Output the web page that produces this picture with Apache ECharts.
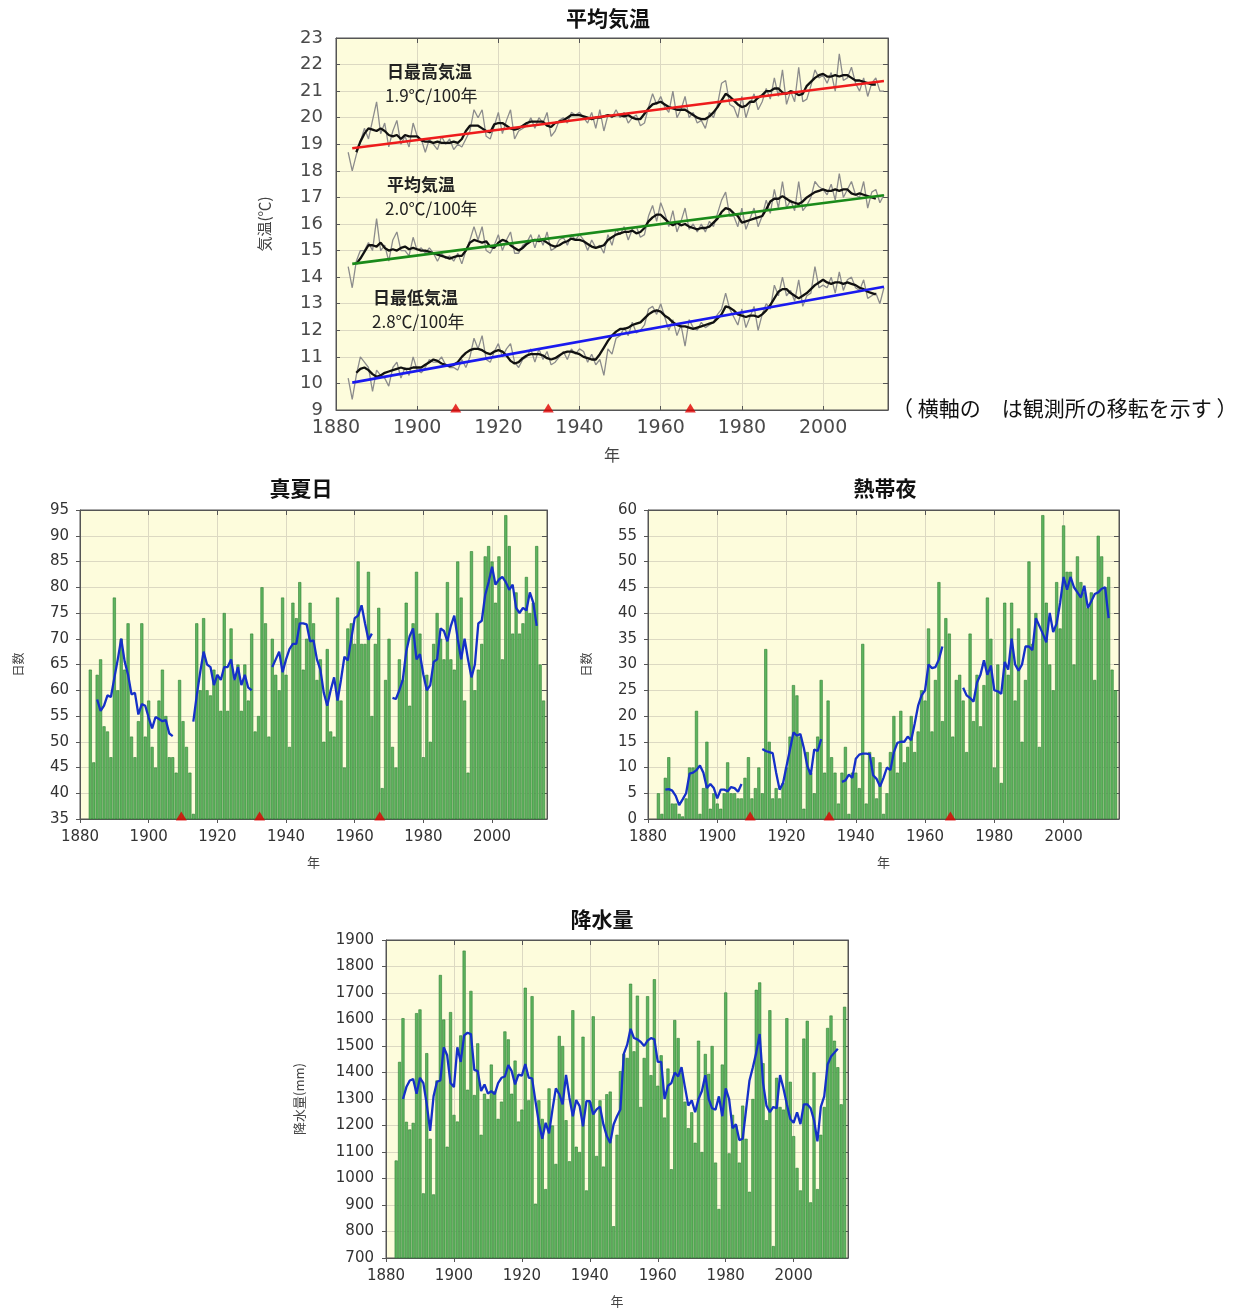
<!DOCTYPE html>
<html>
<head>
<meta charset="UTF-8">
<title>平均気温・真夏日・熱帯夜・降水量</title>
<style>
  html, body { margin: 0; padding: 0; background: #fff; }
  #main { width: 1238px; height: 1310px; }
</style>
</head>
<body>
<div id="main"></div>
<script src="https://cdn.jsdelivr.net/npm/echarts@6/dist/echarts.min.js"></script>
<script>
// ---- data ----
var firstYear = 1883;   // annual values 1883-2015
var maFirst = 1885;     // 5-year running mean, 1885-2013
var moveYears = [1909.5, 1932.3, 1967.3];  // station relocations (red triangles)

// 平均気温 panel: annual (grey) and 5-year mean (black)
var tmaxYear = [18.7,18.0,18.6,19.1,19.6,19.2,19.9,20.6,19.4,19.8,
  18.9,19.5,19.9,19.0,19.3,18.9,19.8,19.3,19.2,18.7,
  19.2,19.0,18.8,19.3,19.0,19.2,18.8,19.0,18.9,19.2,
  19.5,20.3,20.0,20.3,19.3,19.2,19.7,20.2,19.4,19.9,
  20.3,19.2,19.5,19.6,19.7,20.0,19.6,20.0,19.8,20.2,
  19.3,19.5,19.9,20.0,19.8,20.2,20.1,20.2,20.0,19.8,
  20.2,19.6,20.3,19.5,20.1,20.0,20.3,20.0,20.2,19.8,
  20.0,20.1,19.7,19.8,20.4,20.9,20.5,20.8,20.4,20.2,
  21.0,20.0,20.3,20.8,20.0,20.2,19.8,19.9,19.6,20.2,
  20.0,20.5,21.3,21.4,20.5,20.4,20.0,20.8,20.0,20.5,
  20.9,20.3,20.6,21.1,20.7,21.5,20.8,21.8,20.5,21.0,
  20.6,21.9,20.6,20.7,21.2,21.8,21.5,21.6,21.3,21.7,
  21.0,22.4,21.4,21.5,21.9,21.3,21.0,21.5,20.8,21.3,
  21.5,21.0,21.0];
var tmaxMa = [18.7,19.1,19.4,19.6,19.55,19.5,19.6,19.5,19.35,19.3,
  19.35,19.2,19.35,19.3,19.3,19.3,19.15,19.1,19.1,19.05,
  19.1,19.05,19.05,19.05,19.1,19.05,19.2,19.5,19.7,19.7,
  19.7,19.6,19.5,19.45,19.75,19.8,19.8,19.7,19.6,19.55,
  19.6,19.7,19.8,19.85,19.85,19.85,19.85,19.7,19.65,19.8,
  19.85,19.9,20.0,20.1,20.1,20.1,20.05,20.0,19.95,20.0,
  20.0,20.05,20.1,20.05,20.1,20.1,20.05,20.1,20.0,19.95,
  19.95,20.15,20.35,20.5,20.55,
  20.6,20.5,20.4,20.35,20.3,20.3,20.3,20.2,20.1,20.0,
  19.95,19.95,20.05,20.2,20.4,20.65,20.9,20.8,20.65,20.5,
  20.4,20.45,20.6,20.6,20.75,20.85,21.0,21.0,21.1,21.1,
  20.95,20.9,21.0,20.95,20.85,20.9,21.2,21.35,21.5,21.6,
  21.65,21.55,21.55,21.6,21.55,21.6,21.6,21.5,21.4,21.4,
  21.35,21.3,21.25,21.25];
var tmeanYear = [14.4,13.6,14.6,15.0,15.0,15.3,15.0,16.2,15.0,15.2,
  14.6,15.4,15.7,15.0,15.0,14.8,15.5,15.0,15.1,14.9,
  15.1,14.9,14.6,14.9,14.7,14.8,14.6,14.9,14.5,15.0,
  15.4,15.9,15.4,15.9,15.0,14.9,15.2,15.6,15.0,15.4,
  15.7,14.9,14.9,15.2,15.3,15.6,15.1,15.6,15.2,15.7,
  15.0,15.1,15.4,15.5,15.2,15.6,15.4,15.6,15.4,15.0,
  15.4,15.1,15.2,14.9,15.6,15.2,15.8,15.6,15.9,15.4,
  15.8,15.9,15.5,15.6,16.3,16.7,16.1,16.8,16.4,15.9,
  16.5,15.7,16.1,16.6,15.8,16.0,15.7,16.0,15.7,16.1,
  15.9,16.4,16.9,17.2,16.3,16.3,15.9,16.6,15.8,16.2,
  16.6,15.9,16.3,16.9,16.4,17.3,16.6,17.6,16.6,16.9,
  16.5,17.6,16.5,16.7,17.0,17.6,17.4,17.3,17.1,17.5,
  16.9,17.9,17.0,17.3,17.6,17.1,17.0,17.6,16.6,17.2,
  17.3,16.8,17.1];
var tmeanMa = [14.5,14.7,14.95,15.2,15.2,15.15,15.3,15.1,15.0,15.05,
  15.0,15.1,15.15,15.05,15.1,15.05,15.0,15.0,14.95,14.9,
  14.85,14.8,14.75,14.7,14.75,14.8,14.8,15.0,15.3,15.4,
  15.35,15.3,15.35,15.15,15.1,15.3,15.4,15.35,15.2,15.1,
  15.0,15.1,15.25,15.35,15.4,15.35,15.4,15.3,15.2,15.15,
  15.2,15.3,15.35,15.45,15.4,15.4,15.35,15.25,15.15,15.1,
  15.15,15.2,15.4,15.5,15.6,15.65,15.7,15.7,15.75,15.65,
  15.7,15.85,16.1,16.25,16.35,16.35,16.2,16.05,15.95,16.05,
  15.95,16.0,15.9,15.85,15.8,15.85,15.85,15.9,16.05,16.2,
  16.45,16.6,16.55,16.4,16.3,16.05,16.1,16.15,16.2,16.25,
  16.3,16.55,16.85,16.95,16.95,17.05,16.95,16.85,16.8,16.75,
  16.85,17.0,17.1,17.2,17.25,17.3,17.25,17.25,17.3,17.25,
  17.3,17.3,17.15,17.1,17.15,17.1,17.05,17.0,16.95];
var tminYear = [10.2,9.4,10.3,11.0,10.8,10.6,9.7,10.5,10.3,10.2,
  9.9,10.6,10.8,10.2,10.6,10.3,11.0,10.5,10.4,10.6,
  10.9,10.8,10.8,11.0,10.7,10.6,10.6,10.5,10.9,10.6,
  11.0,11.7,11.3,11.8,10.9,10.8,11.2,11.5,11.0,11.3,
  11.5,10.8,10.6,10.9,11.0,11.3,10.8,11.3,10.9,11.2,
  10.7,10.8,11.0,11.2,10.9,11.3,11.1,11.3,11.2,10.8,
  11.1,10.7,10.9,10.3,11.3,11.1,11.7,11.8,12.1,11.8,
  12.3,11.9,12.0,12.2,12.8,12.9,12.6,13.0,12.5,12.0,
  12.4,11.8,12.2,11.4,12.4,12.1,12.0,12.3,12.1,12.2,
  12.3,12.6,12.8,13.4,12.8,12.5,12.2,12.8,12.1,12.5,
  12.9,12.0,12.6,13.0,12.8,13.7,13.3,14.0,13.3,13.5,
  13.1,13.9,12.9,13.3,13.4,14.4,13.6,13.7,13.6,14.0,
  13.4,14.2,13.5,13.9,14.0,13.6,13.5,13.9,13.2,13.3,
  13.4,13.0,13.6];
var tminMa = [10.4,10.55,10.6,10.5,10.35,10.25,10.3,10.4,10.45,10.5,
  10.55,10.6,10.55,10.55,10.6,10.6,10.6,10.7,10.8,10.9,
  10.85,10.75,10.7,10.65,10.7,10.8,11.0,11.15,11.25,11.3,
  11.3,11.25,11.15,11.1,11.2,11.25,11.2,11.05,10.85,10.75,
  10.8,10.95,11.05,11.1,11.1,11.1,11.05,10.95,10.9,10.95,
  11.05,11.15,11.2,11.2,11.15,11.1,11.0,10.95,10.9,10.9,
  11.1,11.35,11.6,11.8,11.95,12.05,12.05,12.1,12.2,12.25,
  12.3,12.45,12.6,12.7,12.75,12.7,12.55,12.45,12.3,12.2,
  12.15,12.15,12.1,12.05,12.1,12.15,12.2,12.25,12.3,12.45,
  12.6,12.9,12.85,12.75,12.6,12.55,12.5,12.55,12.55,12.5,
  12.6,12.75,12.95,13.2,13.45,13.55,13.55,13.4,13.3,13.2,
  13.3,13.4,13.55,13.7,13.8,13.9,13.8,13.75,13.8,13.8,
  13.75,13.8,13.75,13.7,13.6,13.55,13.45,13.4,13.35];
// linear trends (end points)
var trendYears = [1884, 2015];
var tmaxTrend = [18.85, 21.38];
var tmeanTrend = [14.5, 17.08];
var tminTrend = [10.03, 13.64];

// 真夏日 (days), annual bars 1883-2015
var manatsu = [64,46,63,66,53,52,47,78,60,70,
  64,73,51,47,54,73,51,58,49,45,
  58,64,55,47,47,44,62,54,49,44,
  36,73,60,74,60,59,64,63,56,75,
  56,72,62,65,56,65,58,71,52,55,
  80,73,51,70,63,60,78,63,49,77,
  74,81,64,70,77,73,62,66,50,68,
  52,51,78,58,45,72,73,69,85,69,
  69,83,55,69,76,41,62,70,49,45,
  66,62,77,57,73,83,71,47,63,50,
  69,75,70,66,81,66,64,85,78,58,
  44,87,60,64,69,86,88,85,77,86,
  66,94,88,71,79,71,73,82,75,77,
  88,65,58];
// 5-year running mean, split at relocations
var segStarts = [1885, 1913, 1936, 1971];
var manatsuMa = [
  [58.2,56,57,59,58.7,62.4,66,70,65.6,63,59.2,59.5,55.3,57.3,57,54.7,52.6,54.8,54.4,54,54.2,51.6,51.1],
  [53.9,59,63.5,67.5,65,64.5,61,63,62,64.5,64.5,66,62,64.5,61,63,60.5,60],
  [64.5,66,67.5,63.5,66,68,69,69,73,73,72.8,69.5,69.7,66,64,59.5,57,60,62.5,58,62,66.5,65.8,70,74,74.5,76.5,73,69.8,71],
  [58.5,58.3,60,62,67.5,70.5,72,66,67,63,60,61,65.5,66,72,71.5,69.5,72.5,74.5,70,66,70,66,62.5,65,73,73.5,78.5,81,84,80.5,81.5,82,81,79.5,80.5,76,75,76,75.5,79,77,72.5]
];

// 熱帯夜 (days), annual bars 1883-2015
var nettai = [5,1,8,12,3,3,1,0.5,4,10,
  10,21,1,6,15,2,5,3,2,5,
  11,5,5,4,4,8,12,4,6,10,
  5,33,15,4,6,4,7,10,16,26,
  24,16,2,13,9,5,16,27,9,23,
  12,9,3,9,14,1,9,9,6,34,
  3,13,12,4,11,1,5,13,20,9,
  21,11,14,20,13,17,25,23,37,17,
  27,46,19,39,36,16,27,28,23,13,
  36,19,28,18,26,43,35,10,30,7,
  42,28,42,23,37,15,27,50,34,40,
  14,59,42,30,25,46,37,57,48,48,
  30,51,46,44,41,44,27,55,51,45,
  47,29,25];
var nettaiMa = [
  [5.7,5.8,5.5,4.5,2.7,3.8,5,8.8,9,9.5,10.4,9,6,6.8,6,4,5.7,5.7,5.4,6.2,6,5.3,6.8],
  [13.6,13.2,13,12.8,9,5.7,7,10.3,13.5,16.8,16.2,16.5,13.8,10.3,8.6,13.5,13.2,15.5],
  [7.2,7.5,8.6,8,11.7,12.5,12.7,12.7,12.6,8.5,7.8,6.3,8,10,9.5,13,14.8,15,15,16,15.3,18.5,22,24,25,30,29.3,29.5,31,33.5],
  [25.5,24,23.5,22.8,26.5,28,30.8,28,29.8,25,24.8,24.3,30.5,29,35,30,28.8,30,33.5,33.5,32.8,39,37.5,36,34.3,40,36.3,38,42,47,44.5,47,45,44,43,45.3,41,42.3,43.7,44,44.7,45,39]
];

// 降水量 (mm), annual bars 1883-2015 and 5-year mean 1885-2013
var precip = [1068,1440,1605,1214,1185,1210,1624,1638,944,1473,
  1150,940,1370,1768,1600,1120,1628,1240,1215,1540,
  1860,1335,1708,1315,1510,1165,1320,1300,1430,1330,
  1225,1290,1555,1525,1320,1445,1215,1260,1720,1295,
  1688,905,1295,1225,960,1340,1200,1055,1538,1500,
  1220,1065,1635,1120,1100,1535,955,1290,1612,1085,
  1295,1045,1318,1328,820,1165,1405,1470,1455,1735,
  1480,1690,1270,1455,1688,1390,1752,1350,1465,1230,
  1415,1035,1598,1530,1400,1290,1190,1250,1135,1520,
  1100,1470,1395,1500,1060,885,1430,1702,1095,1240,
  1200,1060,1275,1150,950,1300,1712,1740,1435,1220,
  1635,745,1380,1270,1260,1605,1365,1160,1040,955,
  1528,1595,910,1400,960,1165,1270,1568,1615,1520,
  1420,1280,1648];
var precipMa = [1300,1345,1370,1375,1320,1380,1360,1280,1180,1310,
  1365,1370,1495,1465,1360,1345,1495,1440,1540,1550,
  1545,1410,1405,1330,1355,1320,1330,1318,1360,1380,
  1385,1428,1405,1355,1392,1388,1432,1381,1378,1292,
  1210,1150,1210,1170,1260,1340,1318,1280,1391,1305,
  1235,1296,1273,1197,1292,1292,1242,1261,1271,1204,
  1160,1134,1204,1235,1260,1470,1505,1565,1530,1525,
  1515,1500,1520,1530,1525,1440,1440,1300,1350,1360,
  1400,1385,1420,1345,1275,1295,1250,1300,1330,1390,
  1300,1265,1260,1310,1235,1340,1300,1190,1205,1145,
  1150,1260,1370,1420,1475,1545,1360,1275,1250,1270,
  1265,1390,1340,1280,1225,1210,1250,1205,1280,1280,
  1265,1220,1140,1270,1310,1430,1460,1475,1490];

// ---- chart ----
var NUM = "'DejaVu Sans', sans-serif";
var JP = "'Noto Sans CJK JP', sans-serif";
var PLOT_BG = '#fdfcdc';

function pairs(start, vals) {
  return vals.map(function (v, i) { return [start + i, v]; });
}
function plain(v) { return String(v); }   // no thousands separator

var grids = [
  { left: 336, top: 38, width: 552, height: 372 },   // 平均気温
  { left: 80, top: 510, width: 467, height: 309 },   // 真夏日
  { left: 648, top: 510, width: 471, height: 309 },  // 熱帯夜
  { left: 386, top: 940, width: 462, height: 318 }   // 降水量
].map(function (g) {
  return Object.assign({ show: true, backgroundColor: PLOT_BG, borderColor: '#555',
    borderWidth: 1, outerBoundsMode: 'none', containLabel: false }, g);
});

var axisCfg = [
  { ymin: 9, ymax: 23, yint: 1, num: 18, xnum: 19, labelColor: '#4a4a4a', inside: true, yMargin: 13,
    yName: '気温(℃)', yGap: 64, yNameSize: 15, xGap: 37, xNameSize: 16, xMargin: 9 },
  { ymin: 35, ymax: 95, yint: 5, num: 15, xnum: 15, labelColor: '#333', inside: false, yMargin: 11,
    yName: '日数', yGap: 56, yNameSize: 12, xGap: 37, xNameSize: 13, xMargin: 11 },
  { ymin: 0, ymax: 60, yint: 5, num: 15, xnum: 15, labelColor: '#333', inside: false, yMargin: 11,
    yName: '日数', yGap: 56, yNameSize: 12, xGap: 37, xNameSize: 13, xMargin: 11 },
  { ymin: 700, ymax: 1900, yint: 100, num: 15, xnum: 15, labelColor: '#333', inside: false, yMargin: 12,
    yName: '降水量(mm)', yGap: 80, yNameSize: 13, xGap: 37, xNameSize: 13, xMargin: 11 }
];

var xAxes = [], yAxes = [];
axisCfg.forEach(function (c, i) {
  var line = { show: true, onZero: false, lineStyle: { color: '#555', width: 1 } };
  var grid = { show: true, lineStyle: { color: '#dcd9c2', width: 1 } };
  xAxes.push({
    type: 'value', gridIndex: i, min: 1880, max: 2016, interval: 20,
    axisLine: line,
    axisTick: { inside: c.inside, length: 4, lineStyle: { color: '#555' } },
    axisLabel: { fontFamily: NUM, fontSize: c.xnum, color: c.labelColor, margin: c.xMargin,
      showMaxLabel: false, formatter: plain },
    splitLine: grid,
    name: '年', nameLocation: 'middle', nameGap: c.xGap,
    nameTextStyle: { fontFamily: JP, fontSize: c.xNameSize, color: '#444' }
  });
  xAxes.push({
    type: 'value', gridIndex: i, position: 'top', min: 1880, max: 2016, interval: 20,
    axisLine: line, axisTick: { inside: true, length: 5, lineStyle: { color: '#555' } },
    axisLabel: { show: false }, splitLine: { show: false }
  });
  yAxes.push({
    type: 'value', gridIndex: i, min: c.ymin, max: c.ymax, interval: c.yint,
    axisLine: line,
    axisTick: { inside: c.inside, length: 4, lineStyle: { color: '#555' } },
    axisLabel: { fontFamily: NUM, fontSize: c.num, color: c.labelColor, margin: c.yMargin,
      formatter: plain },
    splitLine: grid,
    name: c.yName, nameLocation: 'middle', nameGap: c.yGap, nameRotate: 90,
    nameTextStyle: { fontFamily: JP, fontSize: c.yNameSize, color: '#444' }
  });
  yAxes.push({
    type: 'value', gridIndex: i, position: 'right', min: c.ymin, max: c.ymax, interval: c.yint,
    axisLine: line, axisTick: { inside: true, length: 5, lineStyle: { color: '#555' } },
    axisLabel: { show: false }, splitLine: { show: false }
  });
});

var series = [];
function line(grid, data, color, width, z) {
  series.push({ type: 'line', xAxisIndex: grid * 2, yAxisIndex: grid * 2, data: data,
    showSymbol: false, symbol: 'none', lineStyle: { color: color, width: width }, z: z || 3,
    silent: true });
}
function bars(grid, start, vals) {
  series.push({ type: 'bar', xAxisIndex: grid * 2, yAxisIndex: grid * 2, data: pairs(start, vals),
    barWidth: 3.1, itemStyle: { color: '#5eb45e', borderColor: '#2f7f34', borderWidth: 0.6 },
    z: 2, silent: true });
}
function triangles(grid, ymin, off) {
  series.push({ type: 'scatter', xAxisIndex: grid * 2, yAxisIndex: grid * 2,
    data: moveYears.map(function (y) { return [y, ymin]; }),
    symbol: 'triangle', symbolSize: [11, 9], symbolOffset: [0, off],
    itemStyle: { color: '#e00000' }, clip: false, z: 10, silent: true });
}

// 平均気温
[[tmaxYear, tmaxMa, tmaxTrend, '#ee1c1c'],
 [tmeanYear, tmeanMa, tmeanTrend, '#1a8a1a'],
 [tminYear, tminMa, tminTrend, '#1a1aee']].forEach(function (s) {
  line(0, pairs(firstYear, s[0]), '#8c8c8c', 1.3, 3);
  line(0, pairs(maFirst, s[1]), '#111', 2.3, 4);
  line(0, trendYears.map(function (y, k) { return [y, s[2][k]]; }), s[3], 2.6, 5);
});
triangles(0, 9, -2);

// 真夏日
bars(1, firstYear, manatsu);
manatsuMa.forEach(function (seg, k) { line(1, pairs(segStarts[k], seg), '#1530c8', 2.3, 4); });
triangles(1, 35, -3);

// 熱帯夜
bars(2, firstYear, nettai);
nettaiMa.forEach(function (seg, k) { line(2, pairs(segStarts[k], seg), '#1530c8', 2.3, 4); });
triangles(2, 0, -3);

// 降水量
bars(3, firstYear, precip);
line(3, pairs(maFirst, precipMa), '#1530c8', 2.3, 4);

function title(text, x, y) {
  return { text: text, left: x, top: y, textAlign: 'center',
    textStyle: { fontFamily: JP, fontSize: 21, fontWeight: 'bold', color: '#111' } };
}
function label(text, x, y, weight) {
  return { type: 'text', x: x, y: y, z: 20, silent: true,
    style: { text: text, fill: '#222', align: 'left', verticalAlign: 'middle',
      font: (weight || 'normal') + ' 17px ' + JP } };
}

var chart = echarts.init(document.getElementById('main'), null, { renderer: 'canvas' });
chart.setOption({
  animation: false,
  backgroundColor: '#fff',
  title: [title('平均気温', 603, 3), title('真夏日', 296, 473),
          title('熱帯夜', 880, 473), title('降水量', 597, 904)],
  grid: grids,
  xAxis: xAxes,
  yAxis: yAxes,
  series: series,
  graphic: [
    label('日最高気温', 387, 72, 'bold'), label('1.9℃/100年', 385, 96),
    label('平均気温', 387, 185, 'bold'), label('2.0℃/100年', 385, 209),
    label('日最低気温', 373, 298, 'bold'), label('2.8℃/100年', 372, 322),
    { type: 'text', x: 892, y: 408, z: 20, silent: true,
      style: { text: '（ 横軸の　は観測所の移転を示す ）', fill: '#111', align: 'left',
        verticalAlign: 'middle', font: '21px ' + JP } }
  ]
});
</script>
</body>
</html>
